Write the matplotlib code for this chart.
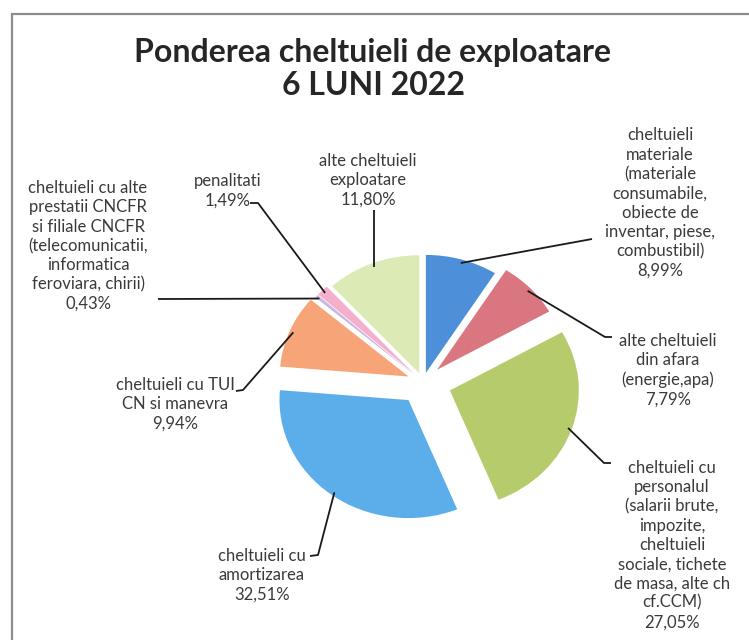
import numpy as np
import matplotlib.pyplot as plt
from matplotlib.patches import Rectangle

# data (percent of operating expenses, H1 2022)
names = [
    "cheltuieli\nmateriale\n(materiale\nconsumabile,\nobiecte de\ninventar, piese,\ncombustibil)",
    "alte cheltuieli\ndin afara\n(energie,apa)",
    "cheltuieli cu\npersonalul\n(salarii brute,\nimpozite,\ncheltuieli\nsociale, tichete\nde masa, alte ch\ncf.CCM)",
    "cheltuieli cu\namortizarea",
    "cheltuieli cu TUI\nCN si manevra",
    "cheltuieli cu alte\nprestatii CNCFR\nsi filiale CNCFR\n(telecomunicatii,\ninformatica\nferoviara, chirii)",
    "penalitati",
    "alte cheltuieli\nexploatare",
]
values = [8.99, 7.79, 27.05, 32.51, 9.94, 0.43, 1.49, 11.80]
colors = ["#4D8FD8", "#DA7680", "#B6CC6C", "#5CAEEB",
          "#F7A478", "#C9B6E2", "#F3AFCB", "#DCEAB6"]
explode = [0.08, 0.15, 0.22, 0.19, 0.12, 0.1, 0.1, 0.08]

# layout, in pixels of the 749x640 image (y from top)
CX, CY, RX, RY = 423, 382, 129, 118
text_pos = [(660, 203), (668, 370), (672, 545), (262, 575),
            (175, 404), (88, 246), (228, 191), (368, 180)]
elbow = [(592, 239), (605, 337), (604, 463), (318, 555),
         (243, 390), (158, 299), (258, 203), (None, 210)]
tick = [None, (612, 337), (611, 463), (310, 556),
        (236, 391), None, (250, 203), None]


def px(x, y):
    return (x - CX) / RX, (CY - y) / RY


fig = plt.figure(figsize=(7.49, 6.40), dpi=100)
ax = fig.add_axes([0, 0, 1, 1])

wedges, _ = ax.pie(values, colors=colors, startangle=90, counterclock=False,
                   explode=explode, wedgeprops=dict(linewidth=0))
ax.set_aspect("auto")
x0, y0 = px(0, 640)
x1, y1 = px(749, 0)
ax.set_xlim(x0, x1)
ax.set_ylim(y0, y1)

# chart frame
fig.patches.append(Rectangle((12 / 749, -0.1), 1.2, (640 - 14) / 640 + 0.1,
                             transform=fig.transFigure, fill=False,
                             edgecolor="#8c8c8c", linewidth=1.6))

fig.text(373 / 749, 1 - 69 / 640,
         "Ponderea cheltuieli de exploatare\n6 LUNI 2022",
         ha="center", va="center", fontsize=23, fontweight="bold",
         family="Lato", color="#262626", linespacing=1.2)

for w, name, v, tp, el, tk in zip(wedges, names, values, text_pos, elbow, tick):
    mid = np.deg2rad((w.theta1 + w.theta2) / 2)
    ax_x = w.center[0] + 0.97 * w.r * np.cos(mid)
    ax_y = w.center[1] + 0.97 * w.r * np.sin(mid)
    ex, ey = el
    if ex is None:
        exd, eyd = ax_x, px(0, ey)[1]
    else:
        exd, eyd = px(ex, ey)
    xs, ys = [ax_x, exd], [ax_y, eyd]
    if tk is not None:
        tx, ty = px(*tk)
        xs.append(tx)
        ys.append(ty)
    ax.plot(xs, ys, color="#1a1a1a", linewidth=1.3, solid_capstyle="butt")
    label = name + "\n" + f"{v:.2f}".replace(".", ",") + "%"
    lx, ly = px(*tp)
    ax.text(lx, ly, label, ha="center", va="center", fontsize=12,
            family="Lato", color="#3a3a3a", linespacing=1.25)

fig.savefig("out.png", dpi=100)
